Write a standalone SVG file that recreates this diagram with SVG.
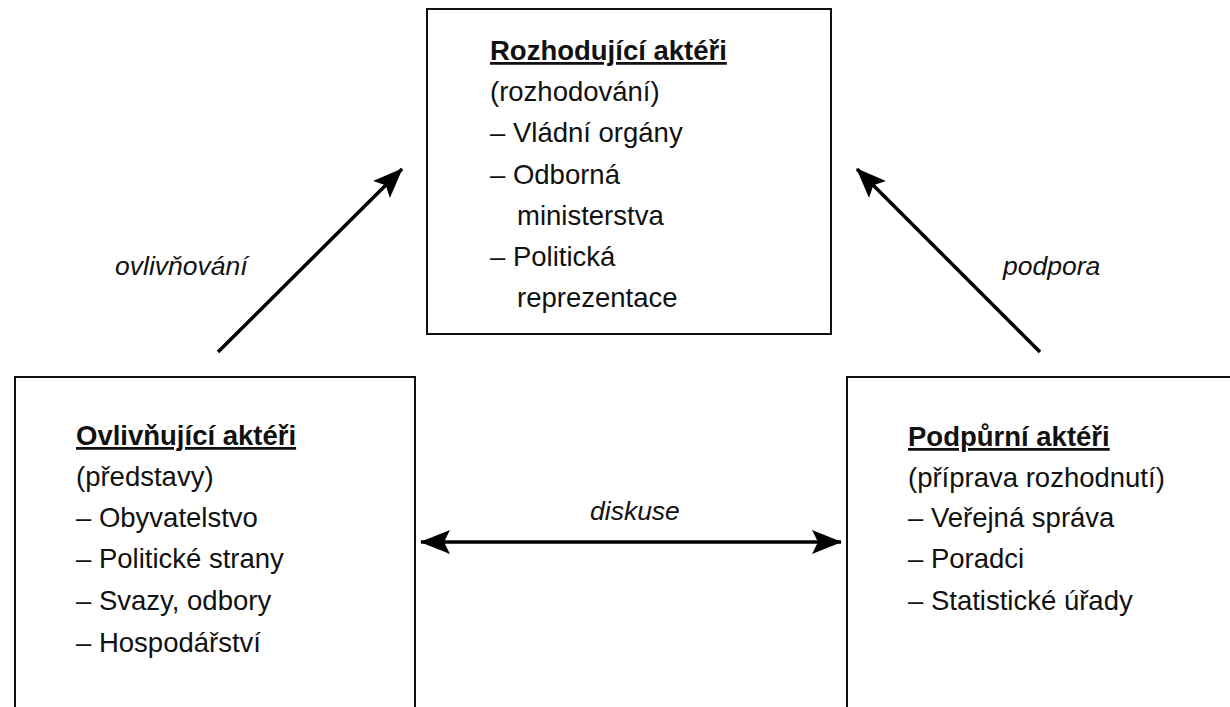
<svg xmlns="http://www.w3.org/2000/svg" width="1230" height="707" viewBox="0 0 1230 707">
<style>
.box{fill:#fff;stroke:#111;stroke-width:2}
.t{font-family:"Liberation Sans",Arial,sans-serif;font-size:27.5px;fill:#111}
.h{font-weight:bold;text-decoration:underline}
.lbl{font-family:"Liberation Sans",Arial,sans-serif;font-size:26.5px;font-style:italic;fill:#111}
.ln{stroke:#000;stroke-width:3.5;fill:none}
</style>
<defs>
<marker id="ah" viewBox="0 0 30 24" refX="29" refY="12" markerWidth="30" markerHeight="24" markerUnits="userSpaceOnUse" orient="auto-start-reverse">
<path d="M0,0 L30,12 L0,24 L6,12 Z" fill="#000"/>
</marker>
</defs>
<rect width="1230" height="707" fill="#fff"/>
<g id="connectors">
<line class="ln" x1="218" y1="352" x2="402" y2="169" marker-end="url(#ah)"/>
<line class="ln" x1="1040" y1="352" x2="857" y2="169" marker-end="url(#ah)"/>
<line class="ln" x1="421" y1="542" x2="841" y2="542" marker-start="url(#ah)" marker-end="url(#ah)"/>
<text class="lbl" x="115" y="275">ovlivňování</text>
<text class="lbl" x="1003" y="275">podpora</text>
<text class="lbl" x="590" y="520">diskuse</text>
</g>
<g id="rozhodujici">
<rect class="box" x="427" y="9" width="404" height="325"/>
<text class="t h" x="490" y="60">Rozhodující aktéři</text>
<text class="t" x="490" y="101">(rozhodování)</text>
<text class="t" x="490" y="142">– Vládní orgány</text>
<text class="t" x="490" y="184">– Odborná</text>
<text class="t" x="517" y="225">ministerstva</text>
<text class="t" x="490" y="266">– Politická</text>
<text class="t" x="517" y="307">reprezentace</text>
</g>
<g id="ovlivnujici">
<rect class="box" x="15" y="377" width="400" height="340"/>
<text class="t h" x="76" y="445">Ovlivňující aktéři</text>
<text class="t" x="76" y="486">(představy)</text>
<text class="t" x="76" y="527">– Obyvatelstvo</text>
<text class="t" x="76" y="568">– Politické strany</text>
<text class="t" x="76" y="610">– Svazy, odbory</text>
<text class="t" x="76" y="652">– Hospodářství</text>
</g>
<g id="podpurni">
<rect class="box" x="847" y="377" width="400" height="340"/>
<text class="t h" x="908" y="446">Podpůrní aktéři</text>
<text class="t" x="908" y="487">(příprava rozhodnutí)</text>
<text class="t" x="908" y="527">– Veřejná správa</text>
<text class="t" x="908" y="568">– Poradci</text>
<text class="t" x="908" y="610">– Statistické úřady</text>
</g>
</svg>
